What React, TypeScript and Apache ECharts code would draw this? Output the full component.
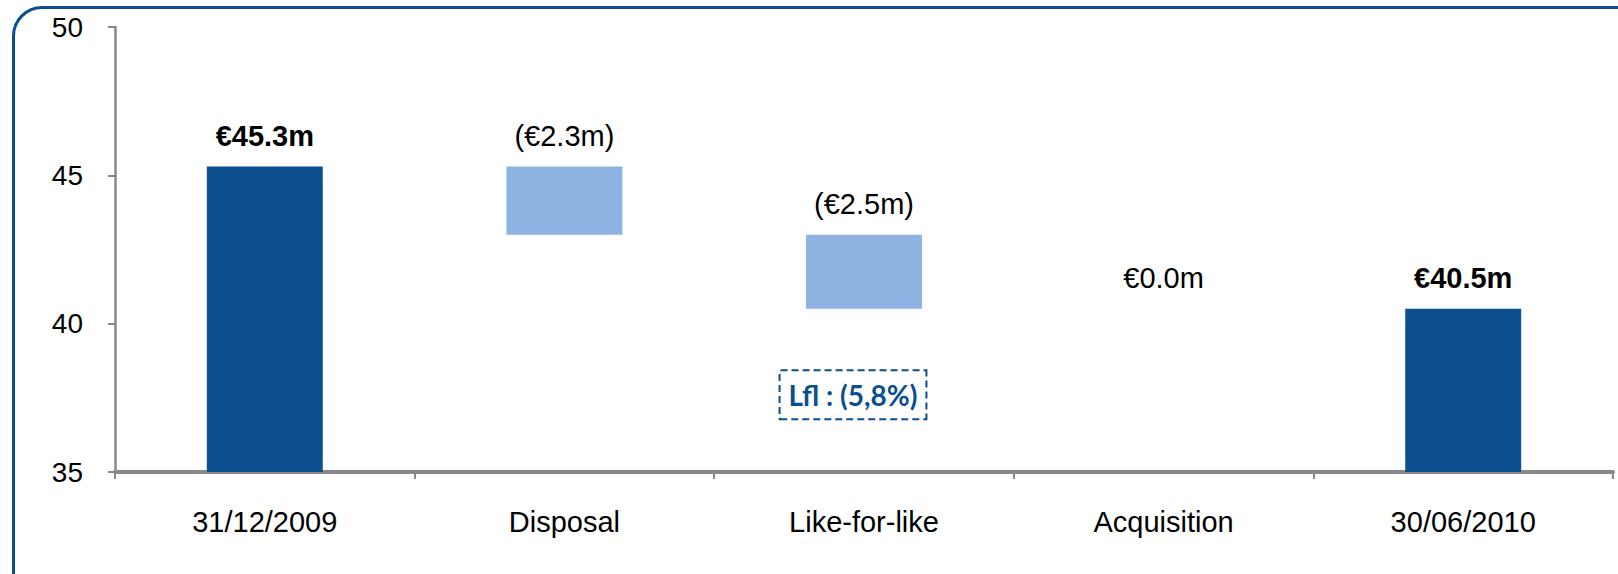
import React, { useEffect, useRef } from "react";
import * as echarts from "echarts";

const categories = ["31/12/2009", "Disposal", "Like-for-like", "Acquisition", "30/06/2010"];
// invisible base of each waterfall step
const baseValues = [0, 43.0, 40.5, 40.5, 0];
// visible height of each step
const stepValues = [45.3, 2.3, 2.5, 0.0, 40.5];
const stepLabels = ["€45.3m", "(€2.3m)", "(€2.5m)", "€0.0m", "€40.5m"];
const isTotal = [true, false, false, false, true];
const yTicks = { min: 35, max: 50, interval: 5 };
const lflNote = { category: "Like-for-like", value: 37.6, text: "Lfl : (5,8%)" };

const DARK = "#0B4F8F";
const LIGHT = "#8EB3E2";
const FONT = "'Liberation Sans', Arial, sans-serif";

export default function App() {
  const ref = useRef<HTMLDivElement>(null);
  useEffect(() => {
    if (!ref.current) return;
    const chart = echarts.init(ref.current, null, { renderer: "svg" });
    chart.setOption({
      animation: false,
      grid: { left: 115, right: 5, top: 27, bottom: 102, containLabel: false },
      xAxis: {
        type: "category",
        data: categories,
        axisLine: { lineStyle: { color: "#888888", width: 4 } },
        axisTick: { show: true, length: 7, lineStyle: { color: "#888888", width: 2 } },
        axisLabel: { color: "#000", fontSize: 29, fontFamily: FONT, margin: 35 },
      },
      yAxis: {
        type: "value",
        min: yTicks.min,
        max: yTicks.max,
        interval: yTicks.interval,
        splitLine: { show: false },
        axisLine: { show: true, lineStyle: { color: "#888888", width: 2.5 } },
        axisTick: { show: true, length: 7, lineStyle: { color: "#888888", width: 2 } },
        axisLabel: { color: "#000", fontSize: 28, fontFamily: FONT, margin: 32 },
      },
      series: [
        {
          type: "bar",
          stack: "wf",
          data: baseValues,
          itemStyle: { color: "transparent" },
          barWidth: "38.7%",
          silent: true,
        },
        {
          type: "bar",
          stack: "wf",
          barWidth: "38.7%",
          data: stepValues.map((v, i) => ({
            value: v,
            itemStyle: { color: isTotal[i] ? DARK : LIGHT },
            label: {
              show: true,
              position: "top",
              distance: 16,
              formatter: stepLabels[i],
              fontSize: 29,
              fontFamily: FONT,
              color: "#000",
              fontWeight: isTotal[i] ? "bold" : "normal",
            },
          })),
        },
        {
          type: "scatter",
          symbolSize: 0,
          z: 10,
          itemStyle: { opacity: 1 },
          data: [[lflNote.category, lflNote.value]],
          label: {
            show: true,
            position: "inside",
            offset: [-11, 0],
            formatter: lflNote.text,
            color: DARK,
            opacity: 1,
            fontWeight: "bold",
            fontSize: 28,
            fontFamily: "Lato, 'Open Sans', sans-serif",
            borderColor: DARK,
            borderWidth: 2,
            borderType: [7, 4],
            padding: [10, 8, 9, 8],
            backgroundColor: "#fff",
          },
        },
      ],
    });
    return () => chart.dispose();
  }, []);

  return (
    <div
      style={{
        position: "fixed",
        left: 0,
        top: 0,
        width: 1618,
        height: 574,
        overflow: "hidden",
        background: "#fff",
      }}
    >
      <div
        style={{
          position: "absolute",
          left: 12,
          top: 6,
          width: 1650,
          height: 600,
          border: `3px solid ${DARK}`,
          borderRadius: 30,
          boxSizing: "border-box",
        }}
      />
      <div ref={ref} style={{ position: "absolute", left: 0, top: 0, width: 1618, height: 574 }} />
    </div>
  );
}
